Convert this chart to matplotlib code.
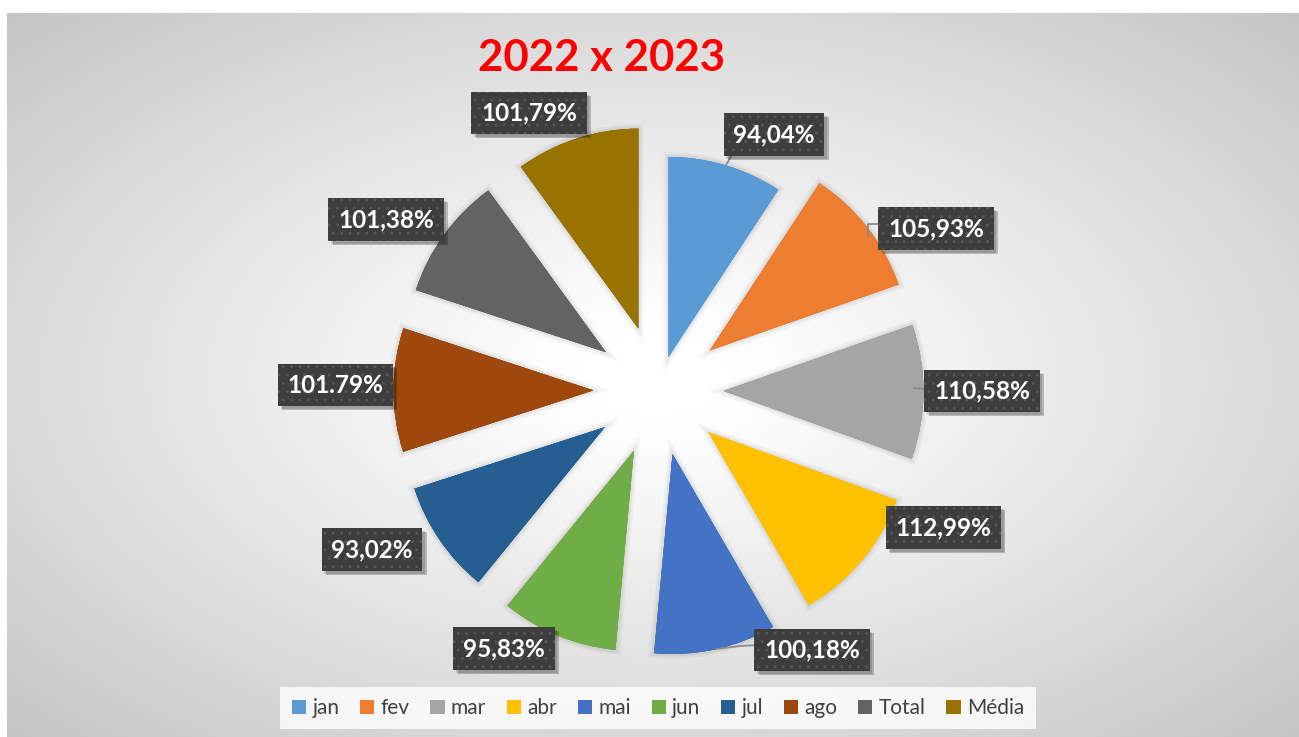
import matplotlib
matplotlib.use('Agg')
import matplotlib.pyplot as plt
import numpy as np
from matplotlib.patches import Patch
import matplotlib.patheffects as pe

# ---------------- data ----------------
categories = ['jan', 'fev', 'mar', 'abr', 'mai', 'jun', 'jul', 'ago', 'Total', 'Média']
values = [94.04, 105.93, 110.58, 112.99, 100.18, 95.83, 93.02, 101.79, 101.38, 101.79]
value_labels = ['94,04%', '105,93%', '110,58%', '112,99%', '100,18%', '95,83%',
                '93,02%', '101.79%', '101,38%', '101,79%']
colors = ['#5B9BD5', '#ED7D31', '#A5A5A5', '#FFC000', '#4472C4', '#70AD47',
          '#255E91', '#9E480E', '#636363', '#997300']
title = '2022 x 2023'

# ---------------- layout (pixel units) ----------------
W, H = 1299, 737
def Y(y):
    return H - y

center = (658.5, Y(390.5))
radius = 200
explode = [35] + [65] * 9
label_pos = [(774, 134.5), (936, 228.5), (982, 391), (943.5, 527.5), (812, 650),
             (504, 648.5), (372, 549.5), (335.5, 385), (386, 219.5), (529, 113)]

fig = plt.figure(figsize=(W / 100, H / 100), dpi=100)
fig.patch.set_facecolor('white')
ax = fig.add_axes([0, 0, 1, 1])

# background radial gradient (chart area)
x0, y0 = 7, 13
xs = np.arange(x0, W) + 0.5
ys = np.arange(y0, H) + 0.5
XX, YY = np.meshgrid(xs, ys)
cx, cy = 655, 375
d = np.sqrt(((XX - cx) / 646.0) ** 2 + ((YY - cy) / 362.0) ** 2) / np.sqrt(2)
t = np.clip((d - 0.08) / 0.92, 0, 1) ** 1.1
v = (255 - 58 * t) / 255.0
img = np.dstack([v, v, v])
ax.imshow(img, extent=(x0, W, Y(H), Y(y0)), origin='upper', zorder=0,
          interpolation='bilinear', aspect='auto')

wedges, _ = ax.pie(values, colors=colors, startangle=90, counterclock=False,
                   radius=radius, center=center, explode=explode, frame=True,
                   wedgeprops=dict(linewidth=0, zorder=2))
for w in wedges:
    w.set_path_effects([pe.Stroke(linewidth=7, foreground=(0, 0, 0, 0.035)),
                        pe.Stroke(linewidth=3.5, foreground=(0, 0, 0, 0.05)),
                        pe.Normal()])

ax.set_xlim(0, W)
ax.set_ylim(0, H)
ax.set_aspect('auto')
ax.axis('off')

# leader lines
leaders = [[(726, 165), (732, 155), (744, 155)],
           [(868, 237), (868, 224), (880, 224)],
           [(913, 388), (927, 389)],
           [(716, 649), (740, 646), (758, 645)]]
for pts in leaders:
    ax.plot([p[0] for p in pts], [Y(p[1]) for p in pts], color='#8c8c8c',
            lw=1.3, zorder=3, solid_capstyle='butt')

# data labels
for (lx, ly), s in zip(label_pos, value_labels):
    base = ax.text(lx, Y(ly), s, ha='center', va='center', color='white',
                   fontsize=17.5, fontweight='bold', family='Lato', zorder=4,
                   bbox=dict(boxstyle='square,pad=0.4', fc='#3d3d3d', ec='none', lw=0))
    base.get_bbox_patch().set_path_effects([
        pe.SimplePatchShadow(offset=(3, -3), shadow_rgbFace='black', alpha=0.22),
        pe.SimplePatchShadow(offset=(2, -2), shadow_rgbFace='black', alpha=0.15),
        pe.Normal()])
    ax.text(lx, Y(ly), s, ha='center', va='center', color='white',
            fontsize=17.5, fontweight='bold', family='Lato', zorder=5,
            bbox=dict(boxstyle='square,pad=0.4', fc='#3d3d3d', ec='#555555',
                      lw=0, hatch='..'))

# title
ax.text(602, Y(58), title, ha='center', va='center', color='#FF0000',
        fontsize=31.5, fontweight='bold', family='Lato', zorder=5)

# legend
handles = [Patch(facecolor=c, edgecolor='none') for c in colors]
leg = fig.legend(handles, categories, loc='center', bbox_to_anchor=(658 / W, 1 - 708 / H),
                 ncol=10, frameon=True, fancybox=False, prop={'family': 'Lato', 'size': 15},
                 labelcolor='#404040', handlelength=0.68, handleheight=0.68,
                 handletextpad=0.3, columnspacing=1.0, borderpad=0.55)
leg.get_frame().set_facecolor((1, 1, 1, 0.35))
leg.get_frame().set_edgecolor('none')

fig.savefig('out.png', dpi=100)
